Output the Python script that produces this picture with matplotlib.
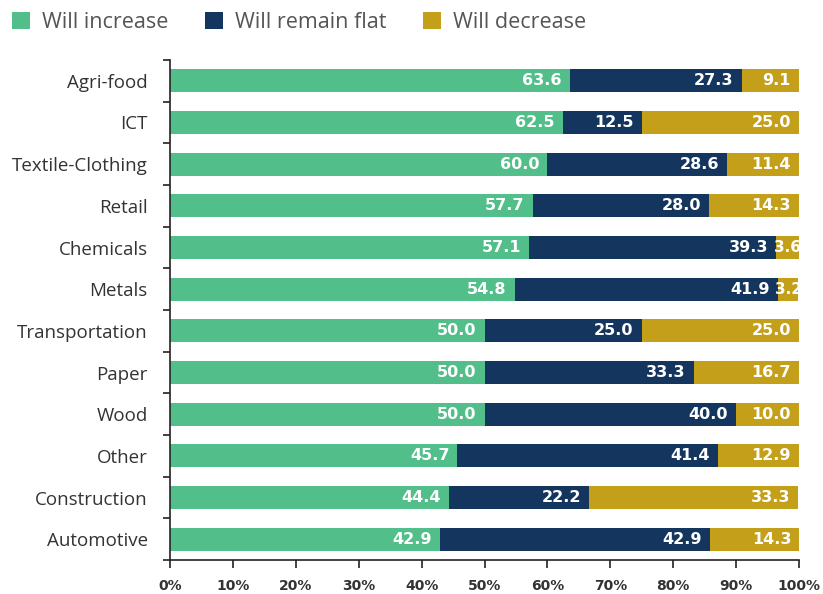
import matplotlib.pyplot as plt
import numpy as np

categories = ["Agri-food", "ICT", "Textile-Clothing", "Retail", "Chemicals", "Metals",
              "Transportation", "Paper", "Wood", "Other", "Construction", "Automotive"]
increase = [63.6, 62.5, 60.0, 57.7, 57.1, 54.8, 50.0, 50.0, 50.0, 45.7, 44.4, 42.9]
flat = [27.3, 12.5, 28.6, 28.0, 39.3, 41.9, 25.0, 33.3, 40.0, 41.4, 22.2, 42.9]
decrease = [9.1, 25.0, 11.4, 14.3, 3.6, 3.2, 25.0, 16.7, 10.0, 12.9, 33.3, 14.3]
series_names = ["Will increase", "Will remain flat", "Will decrease"]
colors = ["#52BE8A", "#14365E", "#C49F1A"]

fig = plt.figure(figsize=(8.23, 5.94), dpi=100)
ax = fig.add_axes([0.2066, 0.0572, 0.7643, 0.8418])

y = np.arange(len(categories))
left = np.zeros(len(categories))
handles = []
for vals, name, col in zip([increase, flat, decrease], series_names, colors):
    vals = np.array(vals)
    h = ax.barh(y, vals, left=left, height=0.55, color=col, label=name)
    handles.append(h)
    for yi, l, v in zip(y, left, vals):
        if v < 5:
            # narrow segment: center the label
            ax.text(l + v / 2, yi, f"{v:.1f}", ha="center", va="center",
                    color="white", fontsize=11, fontweight="bold", family="DejaVu Sans")
        else:
            ax.text(l + v - 1.3, yi, f"{v:.1f}", ha="right", va="center",
                    color="white", fontsize=11.5, fontweight="bold", family="DejaVu Sans")
    left = left + vals

ax.set_xlim(0, 100)
ax.set_ylim(len(categories) - 0.5, -0.5)
ax.set_xticks(np.arange(0, 101, 10))
ax.set_xticklabels([f"{t}%" for t in range(0, 101, 10)], fontsize=10, color="#333333",
                   fontweight="bold")
ax.set_yticks(y)
ax.set_yticklabels(categories, fontsize=13.5, color="#333333", family="Open Sans")
ax.tick_params(axis="y", which="major", length=0, pad=16)
ax.set_yticks(np.arange(-0.5, len(categories), 1), minor=True)
ax.tick_params(axis="y", which="minor", length=5, width=1.2, color="#222222")
ax.tick_params(axis="x", length=6, width=1.2, color="#222222", pad=8)

for s in ["top", "right"]:
    ax.spines[s].set_visible(False)
for s in ["left", "bottom"]:
    ax.spines[s].set_color("#222222")
    ax.spines[s].set_linewidth(1.2)

fig.legend(handles=handles, loc="upper left", bbox_to_anchor=(-0.009, 1.012), ncol=3,
           frameon=False, handlelength=0.85, handleheight=0.85,
           columnspacing=1.7, handletextpad=0.55,
           prop={"family": "Open Sans", "size": 15.5})
for t in fig.legends[0].get_texts():
    t.set_color("#555555")

fig.savefig("out.png", dpi=100)
